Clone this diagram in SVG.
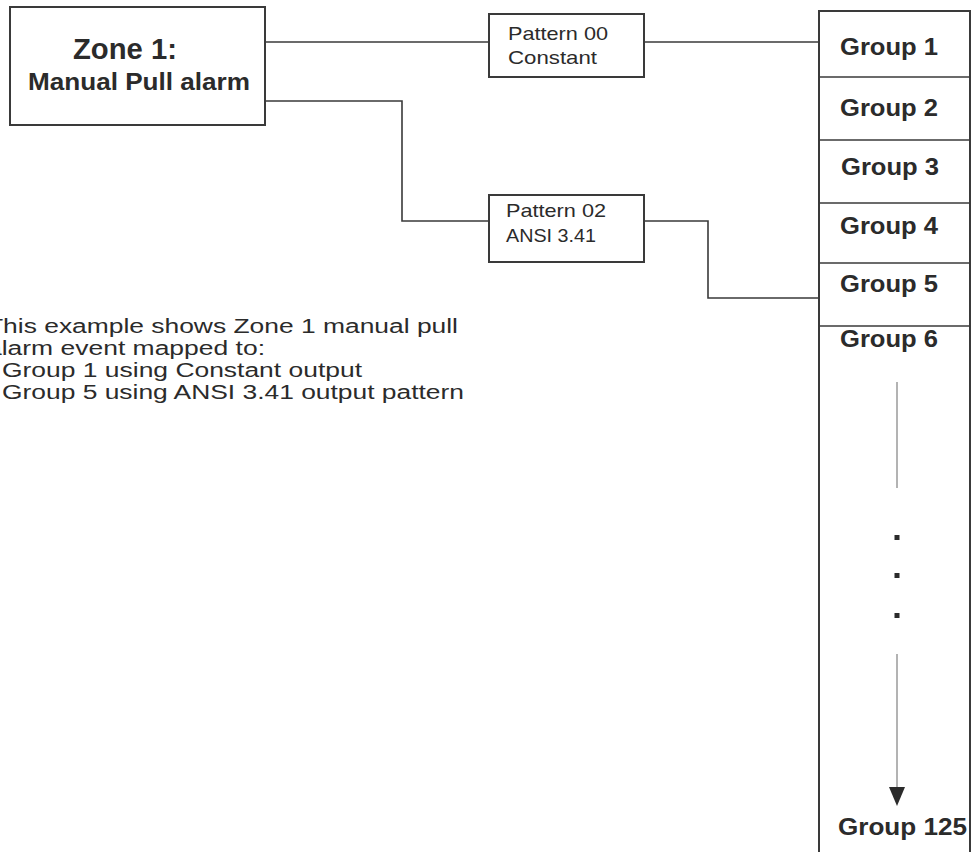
<svg xmlns="http://www.w3.org/2000/svg" width="972" height="852" viewBox="0 0 972 852">
<style>
.box{fill:#fff;stroke:#3a3a3a;stroke-width:2}
.wire{fill:none;stroke:#3a3a3a;stroke-width:1.6}
.t{font-family:"Liberation Sans",Arial,sans-serif;fill:#2b2b2b}
.grp{font-family:"Liberation Sans",Arial,sans-serif;font-weight:bold;font-size:24px;fill:#2b2b2b}
.pat{font-family:"Liberation Sans",Arial,sans-serif;font-size:19px;fill:#2b2b2b}
.body{font-family:"Liberation Sans",Arial,sans-serif;font-size:20px;fill:#2b2b2b}
.div{stroke:#3a3a3a;stroke-width:1.6}
.dash{stroke:#808080;stroke-width:1.2}
.dot{fill:#2b2b2b}
</style>
<rect width="972" height="852" fill="#fff"/>

<g id="connectors">
<path class="wire" d="M265,42 H489"/>
<path class="wire" d="M644,42 H819"/>
<path class="wire" d="M265,101 H402 V221 H489"/>
<path class="wire" d="M644,221 H708 V298 H819"/>
</g>

<g id="zone1">
<rect class="box" x="10" y="7" width="255" height="118"/>
<text class="t" x="73" y="59" font-size="30" font-weight="bold" textLength="104" lengthAdjust="spacingAndGlyphs">Zone 1:</text>
<text class="t" x="28" y="90" font-size="23" font-weight="bold" textLength="222" lengthAdjust="spacingAndGlyphs">Manual Pull alarm</text>
</g>

<g id="pattern00">
<rect class="box" x="489" y="14" width="155" height="63"/>
<text class="pat" x="508" y="40" textLength="100" lengthAdjust="spacingAndGlyphs">Pattern 00</text>
<text class="pat" x="508" y="64" textLength="89" lengthAdjust="spacingAndGlyphs">Constant</text>
</g>

<g id="pattern02">
<rect class="box" x="489" y="195" width="155" height="67"/>
<text class="pat" x="506" y="217" textLength="100" lengthAdjust="spacingAndGlyphs">Pattern 02</text>
<text class="pat" x="506" y="242" textLength="90" lengthAdjust="spacingAndGlyphs">ANSI 3.41</text>
</g>

<g id="groups">
<rect class="box" x="819" y="11" width="151" height="850"/>
<line class="div" x1="819" y1="77" x2="970" y2="77"/>
<line class="div" x1="819" y1="140" x2="970" y2="140"/>
<line class="div" x1="819" y1="203" x2="970" y2="203"/>
<line class="div" x1="819" y1="263" x2="970" y2="263"/>
<line class="div" x1="819" y1="326" x2="970" y2="326"/>
<g id="group1"><text class="grp" x="840" y="55" textLength="98" lengthAdjust="spacingAndGlyphs">Group 1</text></g>
<g id="group2"><text class="grp" x="840" y="116" textLength="98" lengthAdjust="spacingAndGlyphs">Group 2</text></g>
<g id="group3"><text class="grp" x="841" y="175" textLength="98" lengthAdjust="spacingAndGlyphs">Group 3</text></g>
<g id="group4"><text class="grp" x="840" y="234" textLength="98" lengthAdjust="spacingAndGlyphs">Group 4</text></g>
<g id="group5"><text class="grp" x="840" y="292" textLength="98" lengthAdjust="spacingAndGlyphs">Group 5</text></g>
<g id="group6"><text class="grp" x="840" y="347" textLength="98" lengthAdjust="spacingAndGlyphs">Group 6</text></g>
<g id="group125"><text class="grp" x="838" y="835" textLength="129" lengthAdjust="spacingAndGlyphs">Group 125</text></g>
<line class="dash" x1="897" y1="382" x2="897" y2="488"/>
<rect class="dot" x="894.5" y="535" width="5" height="5"/>
<rect class="dot" x="894.5" y="573" width="5" height="5"/>
<rect class="dot" x="894.5" y="613" width="5" height="5"/>
<line class="dash" x1="897" y1="654" x2="897" y2="792"/>
<path class="dot" d="M889,787 L905,787 L897,806 Z"/>
</g>

<g id="note">
<text class="body" x="-13" y="333" textLength="471" lengthAdjust="spacingAndGlyphs">This example shows Zone 1 manual pull</text>
<text class="body" x="-13" y="355" textLength="278" lengthAdjust="spacingAndGlyphs">alarm event mapped to:</text>
<text class="body" x="2" y="377" textLength="360" lengthAdjust="spacingAndGlyphs">Group 1 using Constant output</text>
<text class="body" x="2" y="399" textLength="462" lengthAdjust="spacingAndGlyphs">Group 5 using ANSI 3.41 output pattern</text>
</g>
</svg>
